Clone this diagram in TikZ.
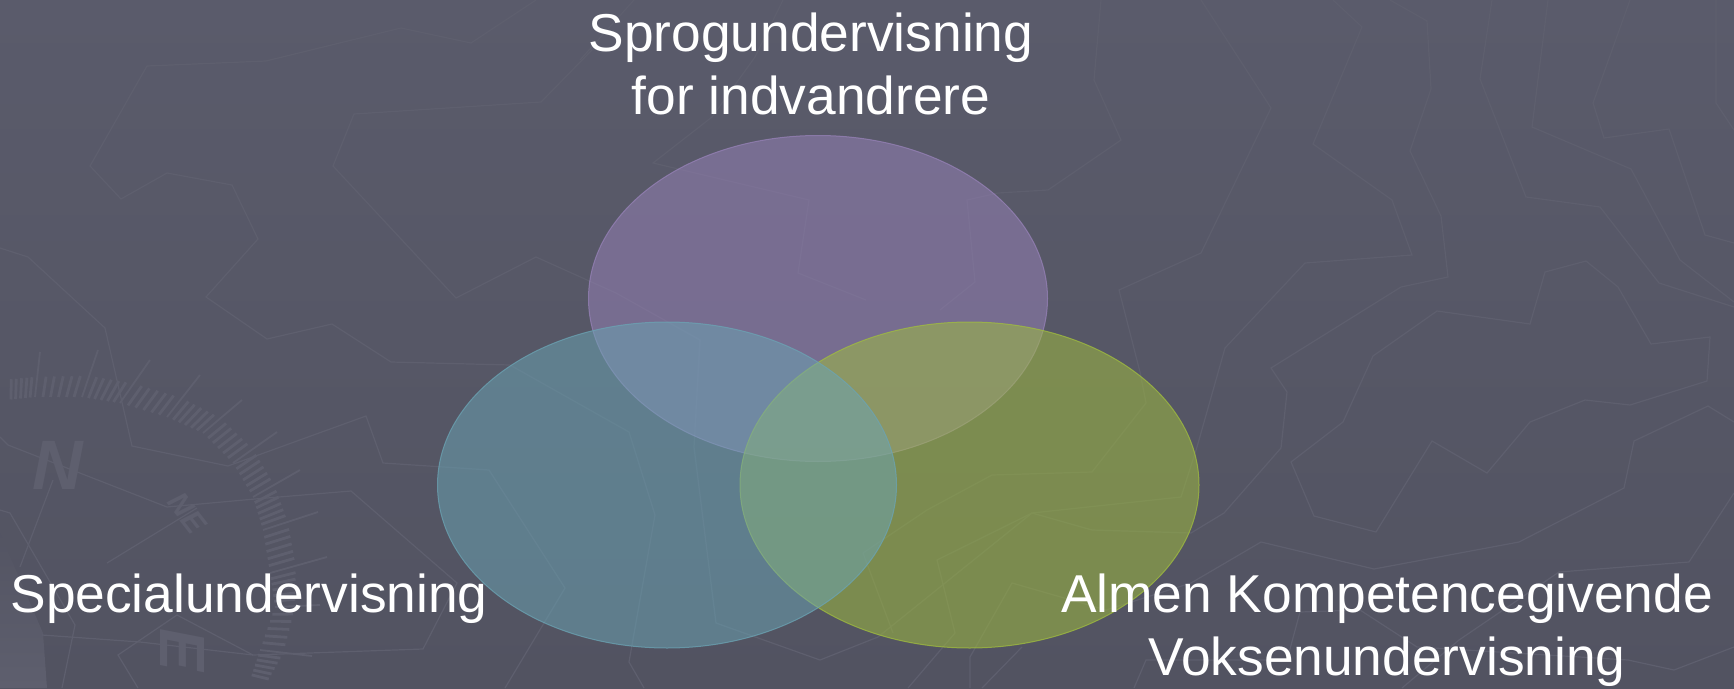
\documentclass[tikz,border=0pt]{standalone}
\usepackage{fontspec}
\setmainfont{Liberation Sans}
\usetikzlibrary{calc,shapes.geometric}
\definecolor{mapgray}{HTML}{5E5F6E}
\definecolor{bgtop}{RGB}{90,91,107}
\definecolor{bgbottom}{RGB}{82,83,97}
\definecolor{lilla}{RGB}{151,130,184}
\definecolor{cyan1}{RGB}{107,164,180}
\definecolor{oliven}{RGB}{161,190,62}
\tikzset{
  mapline/.style={draw=mapgray, line width=1.2pt, line join=miter},
  tickmark/.style={draw=mapgray, line width=2.8pt},
  vennset/.style={ellipse, inner sep=0pt, minimum width=459pt, minimum height=326pt,
    fill opacity=.52, draw opacity=.75, line width=1pt},
  venntext/.style={text=white, font=\fontsize{53.3}{63}\selectfont, align=center},
  compass/.style={text=mapgray}
}
\begin{document}
\begin{tikzpicture}[x=1pt, y=-1pt]

  \useasboundingbox (0,0) rectangle (1734,688);
  \shade[top color=bgtop, bottom color=bgbottom] (0,0) rectangle (1734,688);

  % kortet i baggrunden
  \shade[top color=bgbottom!85!bgtop, bottom color=mapgray] (0,533) -- (43,633) -- (47,688) -- (0,688) -- cycle;
  \draw[mapline] (536,0) -- (471,43) -- (401,28) -- (266,61) -- (147,66) -- (90,166) -- (121,199) -- (167,173) -- (232,185) -- (258,239) -- (206,297) -- (267,339) -- (332,324) -- (391,362) -- (510,365) -- (629,432) -- (655,515) -- (629,662) -- (644,688);
  \draw[mapline] (592,50) -- (541,102) -- (354,114) -- (333,166) -- (456,298) -- (536,257) -- (616,293) -- (700,340) -- (694,447) -- (716,623) -- (820,660) -- (878,637) -- (1032,513) -- (1092,530) -- (1191,533) -- (1224,513) -- (1281,448) -- (1287,392) -- (1271,368) -- (1401,287) -- (1448,277) -- (1441,216) -- (1410,151) -- (1431,89) -- (1427,21) -- (1390,0);
  \draw[mapline] (783,0) -- (755,57) -- (712,117) -- (653,163) -- (809,200) -- (798,273) -- (866,300);
  \draw[mapline] (580,60) -- (634,0);
  \draw[mapline] (1101,0) -- (1094,80) -- (1121,140) -- (1048,190) -- (998,193) -- (967,200) -- (975,282) -- (940,310);
  \draw[mapline] (1201,0) -- (1271,108) -- (1201,253) -- (1119,290) -- (1140,372) -- (1146,403) -- (1092,472) -- (992,475) -- (927,510) -- (863,553) -- (893,633);
  \draw[mapline] (1333,0) -- (1362,27) -- (1313,144) -- (1392,200) -- (1412,255) -- (1305,263) -- (1225,348) -- (1197,447) -- (1181,497) -- (1032,513) -- (937,560) -- (955,633) -- (908,688);
  \draw[mapline] (1492,0) -- (1480,79) -- (1526,197) -- (1600,207) -- (1659,283) -- (1734,307);
  \draw[mapline] (1548,0) -- (1532,127) -- (1631,169) -- (1680,260) -- (1734,302);
  \draw[mapline] (1630,0) -- (1593,103) -- (1604,138) -- (1669,129) -- (1705,235) -- (1734,243);
  \draw[mapline] (1716,0) -- (1716,103) -- (1734,130);
  \draw[mapline] (1373,356) -- (1437,311) -- (1530,324) -- (1545,272) -- (1586,261) -- (1618,287) -- (1651,344) -- (1710,337) -- (1707,381) -- (1630,405) -- (1585,400) -- (1530,422) -- (1487,473) -- (1432,441) -- (1376,532) -- (1314,516) -- (1291,462) -- (1343,422) -- cycle;
  \draw[mapline] (1734,422) -- (1708,406) -- (1634,441) -- (1624,488) -- (1519,542) -- (1374,569) -- (1261,542) -- (1191,583) -- (1106,610) -- (1012,583) -- (970,657) -- (970,688);
  \draw[mapline] (1734,493) -- (1689,562) -- (1559,572) -- (1459,640) -- (1402,688);
  \draw[mapline] (1134,688) -- (1146,660) -- (1287,660) -- (1300,612) -- (1360,610) -- (1417,647) -- (1628,660) -- (1674,670) -- (1734,647);
  \draw[mapline] (1022,647) -- (982,688);
  \draw[mapline] (0,248) -- (28,257) -- (105,328) -- (132,446) -- (228,466) -- (366,416) -- (383,463) -- (489,470) -- (565,588) -- (505,688);
  \draw[mapline] (0,437) -- (8,445) -- (167,507) -- (255,499) -- (351,491) -- (457,583) -- (423,649) -- (253,655) -- (177,615) -- (118,655) -- (138,688);
  \draw[mapline] (0,510) -- (10,513) -- (75,625) -- (62,688);
  \draw[mapline] (42,635) -- (140,642) -- (253,655);
  \draw[mapline] (53,480) -- (20,567);
  \draw[mapline] (107,563) -- (197,508);

  % kompasset
  \foreach \ox/\oy/\ix/\iy [count=\n] in {6/355/6/400, 40/352/35/397, 98/350/82/397, 150/360/120/403,
      200/375/167/417, 242/400/203/433, 277/432/233/463, 300/470/253/497, 318/512/263/530,
      327/557/270/573, 320/605/275/607, 312/656/260/650, 285/690/250/680}{
    \coordinate (o\n) at (\ox,\oy);
    \coordinate (i\n) at (\ix,\iy);
  }
  \foreach \n in {2,...,12}{
    \draw[tickmark, line width=1.8pt] (o\n) -- (i\n);
  }
  \foreach \n/\m in {1/2,2/3,3/4,4/5,5/6,6/7,7/8,8/9,9/10,10/11,11/12,12/13}{
    \foreach \t in {.17,.33,.5,.67,.83}{
      \draw[tickmark] ($(i\n)!\t!(i\m)$) -- ($($(i\n)!\t!(i\m)$)!.45!($(o\n)!\t!(o\m)$)$);
    }
  }
  \node[compass, font=\bfseries\itshape\fontsize{70}{70}\selectfont] (northmark) at (58,465) {N};
  \node[compass, font=\bfseries\itshape\fontsize{30}{30}\selectfont, rotate=-52] (nemark) at (187,513) {NE};
  \node[compass, font=\bfseries\itshape\fontsize{64}{64}\selectfont, rotate=-90] (eastmark) at (183,650) {E};

  % de tre maengder
  \node[vennset, fill=lilla, draw=lilla] (sprog) at (818,298.5) {};
  \node[vennset, fill=oliven, draw=oliven] (almen) at (969.5,485) {};
  \node[vennset, fill=cyan1, draw=cyan1] (special) at (667,485) {};

  \node[venntext, anchor=center] (sproglabel) at (811,64) {Sprogundervisning\\for indvandrere};
  \node[venntext, anchor=base] (speciallabel) at (249,612) {Specialundervisning};
  \node[venntext, anchor=center] (almenlabel) at (1387,630.5) {Almen Kompetencegivende\\Voksenundervisning};

\end{tikzpicture}
\end{document}
